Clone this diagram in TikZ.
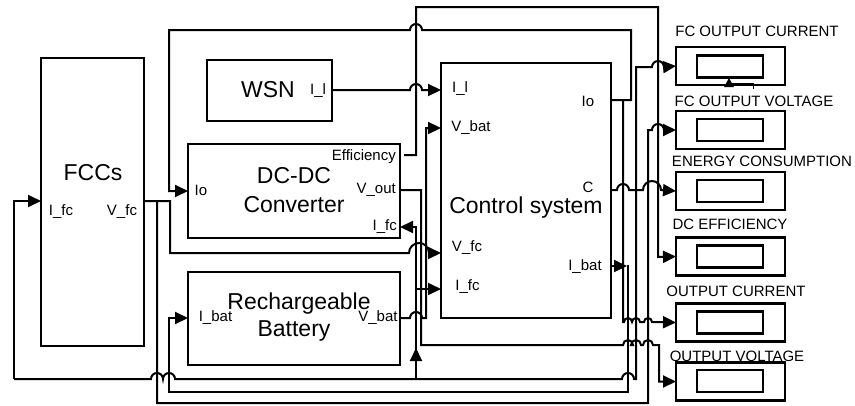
\documentclass[tikz,border=0pt]{standalone}
\usepackage{fontspec}
\setmainfont{Liberation Sans}
\usetikzlibrary{arrows.meta}
\begin{document}
\begin{tikzpicture}[x=1pt,y=-1pt,
  wire/.style={line width=2pt, line join=miter},
  arr/.style={wire,-{Triangle[length=13pt,width=12pt]}},
  blk/.style={draw, line width=2.3pt, inner sep=0pt, outer sep=0pt},
  disp/.style={blk, minimum width=109pt, minimum height=38pt},
  scr/.style={blk, minimum width=66pt, minimum height=22pt},
  big/.style={font=\fontsize{23}{27}\selectfont, inner sep=0pt},
  lbl/.style={font=\fontsize{15}{18}\selectfont, inner sep=0pt},
  jr/.style={radius=6pt},
]
\useasboundingbox (0,0) rectangle (855,405);

% ---------- blocks ----------
\node[blk, minimum width=103pt, minimum height=288pt] (fcc) at (92.5,202) {};
\node[blk, minimum width=125pt, minimum height=61pt] (wsn) at (269.5,90.5) {};
\node[blk, minimum width=212pt, minimum height=94pt] (dcdc) at (294,191) {};
\node[blk, minimum width=212pt, minimum height=93pt] (bat) at (294,318.5) {};
\node[blk, minimum width=170pt, minimum height=255pt] (ctl) at (526,190.5) {};

% displays
\node[disp] (d1) at (730.5,66) {};
\node[scr]  (s1) at (730,66.5) {};
\node[disp] (d2) at (730.5,130) {};
\node[scr]  (s2) at (730,130) {};
\node[disp] (d3) at (730.5,191) {};
\node[scr]  (s3) at (730,191) {};
\node[disp] (d4) at (730.5,256.5) {};
\node[scr]  (s4) at (730,256.5) {};
\node[disp] (d5) at (730.5,322.5) {};
\node[scr]  (s5) at (730,322.5) {};
\node[disp] (d6) at (730.5,381.5) {};
\node[scr]  (s6) at (730,381) {};

% slider on first display
\fill (724,87) -- (734,87) -- (729,78) -- cycle;
\draw[line width=0.8pt] (729,83) -- (753,83) -- (753,89);

% ---------- texts ----------
\node[big] (tfcc) at (93,173) {FCCs};
\node[lbl] (tfcc1) at (61,212) {I\_fc};
\node[lbl] (tfcc2) at (122,212) {V\_fc};

\node[big] (twsn) at (268,90) {WSN};
\node[lbl] (twsn1) at (318,91) {I\_l};

\node[big] (tdc1) at (294,176) {DC-DC};
\node[big] (tdc2) at (294,205) {Converter};
\node[lbl] (tdc3) at (201,190) {Io};
\node[lbl, anchor=east] (tdc4) at (396,157) {Efficiency};
\node[lbl, anchor=east] (tdc5) at (396,190) {V\_out};
\node[lbl, anchor=east] (tdc6) at (397,227) {I\_fc};

\node[big] (tb1) at (299,304) {Rechargeable};
\node[big] (tb2) at (294,331) {Battery};
\node[lbl] (tb3) at (215.5,318) {I\_bat};
\node[lbl] (tb4) at (378,318) {V\_bat};

\node[big] (tc) at (526,208) {Control system};
\node[lbl] (tc1) at (460,89) {I\_l};
\node[lbl] (tc2) at (471,128) {V\_bat};
\node[lbl] (tc3) at (467,248) {V\_fc};
\node[lbl] (tc4) at (467.5,287) {I\_fc};
\node[lbl] (tc5) at (588,101) {Io};
\node[lbl] (tc6) at (588,187) {C};
\node[lbl] (tc7) at (585,267) {I\_bat};

\node[lbl] (l1) at (757,31) {FC OUTPUT CURRENT};
\node[lbl] (l2) at (754,101) {FC OUTPUT VOLTAGE};
\node[lbl] (l3) at (762,161) {ENERGY CONSUMPTION};
\node[lbl] (l4) at (730,224) {DC EFFICIENCY};
\node[lbl] (l5) at (736,291) {OUTPUT CURRENT};
\node[lbl] (l6) at (737,356) {OUTPUT VOLTAGE};

% ---------- wires ----------
% Efficiency -> DC EFFICIENCY
\draw[arr] (404,155) -- (416,155) -- (416,7) -- (658,7) -- (658,257) -- (d4.west);

% Io -> DC-DC Io
\draw[arr] (ctl.east |- 0,100) -- (631,100) -- (631,30) -- (422,30)
  arc[start angle=0,end angle=180,jr] -- (169,30) -- (169,191) -- (dcdc.west |- 0,191);
% Io -> OUTPUT CURRENT
\draw[arr] (623,100) -- (623,322) -- (624,322)
  arc[start angle=180,end angle=0,radius=4pt] -- (632,322)
  arc[start angle=180,end angle=0,radius=4pt] -- (644,322)
  arc[start angle=180,end angle=0,radius=4pt] -- (d5.west);

% WSN I_l -> control I_l
\draw[arr] (wsn.east |- 0,90) -- (410,90) arc[start angle=180,end angle=0,jr] -- (ctl.west |- 0,90);

% battery V_bat -> control V_bat
\draw[arr] (bat.east |- 0,318) -- (410,318) arc[start angle=180,end angle=0,jr]
  -- (426,318) -- (426,128) -- (ctl.west |- 0,128);

% V_out -> OUTPUT VOLTAGE
\draw[arr] (dcdc.east |- 0,190) -- (421,190) -- (421,345) -- (623,345)
  arc[start angle=180,end angle=0,radius=5pt] -- (631,345)
  arc[start angle=180,end angle=0,radius=5pt] -- (643,345)
  arc[start angle=180,end angle=0,radius=5pt] -- (659,345) -- (659,381.5) -- (d6.west);

% FCCs V_fc -> control V_fc
\draw[arr] (fcc.east |- 0,201) -- (170,201) -- (170,253) -- (409,253)
  arc[start angle=180,end angle=0,radius=10pt] -- (ctl.west |- 0,253);
% V_fc -> FC OUTPUT VOLTAGE
\draw[arr] (157,201) -- (157,403) -- (648,403) -- (648,130) -- (652,130)
  arc[start angle=180,end angle=0,jr] -- (d2.west);

% I_fc net
\draw[arr] (14,379) -- (14,201) -- (fcc.west |- 0,201);
\draw[arr] (14,379) -- (151,379) arc[start angle=180,end angle=0,jr]
  -- (163,379) arc[start angle=180,end angle=0,jr]
  -- (622,379) arc[start angle=180,end angle=0,jr]
  -- (636,379) -- (636,67) -- (652,67) arc[start angle=180,end angle=0,jr] -- (d1.west);
\draw[arr] (416,379) -- (416,227) -- (dcdc.east |- 0,227);
\draw[arr] (416,361) -- (416,348);
\draw[arr] (416,289) -- (ctl.west |- 0,289);

% C -> ENERGY CONSUMPTION
\draw[arr] (ctl.east |- 0,190) -- (617,190) arc[start angle=180,end angle=0,jr]
  -- (643,190) arc[start angle=180,end angle=0,radius=9pt] -- (d3.west);

% I_bat -> battery I_bat
\draw[arr] (ctl.east |- 0,266) -- (627,266);
\draw[arr] (627,266) -- (628,266) -- (628,392) -- (169,392) -- (169,318) -- (bat.west |- 0,318);
\end{tikzpicture}
\end{document}
